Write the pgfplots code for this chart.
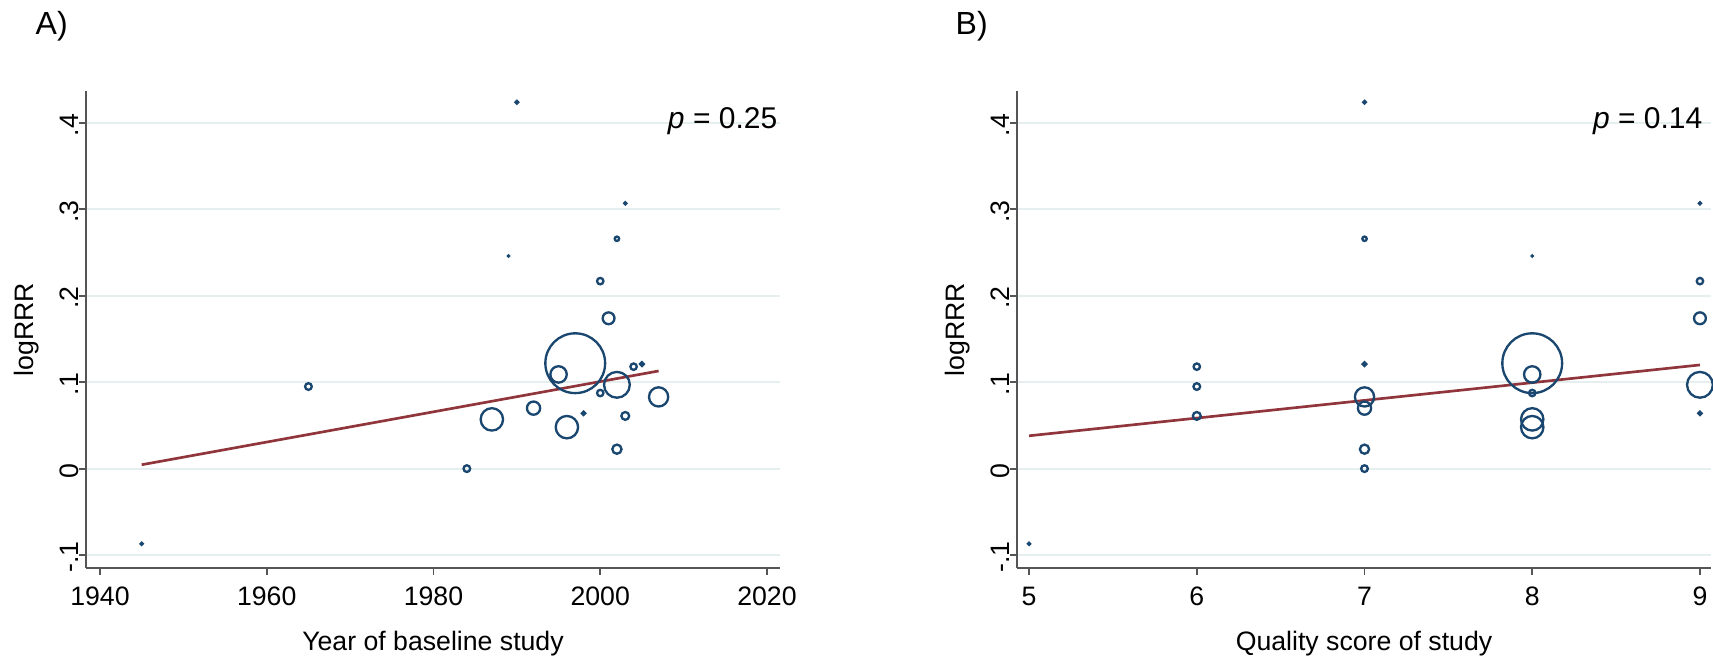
\documentclass[border=0pt]{standalone}
\usepackage{fontspec}
\setmainfont{Liberation Sans}
\usepackage{pgfplots}
\usepackage{pgfplotstable}
\pgfplotsset{compat=1.18}

\definecolor{navy}{RGB}{26,71,111}
\definecolor{maroon}{RGB}{144,53,59}
\definecolor{gridc}{RGB}{230,239,240}
\definecolor{axisgray}{RGB}{85,85,85}

\pgfplotstableread{
year score y ms
1945 5 -0.087 0.30
1965 6 0.095 1.00
1984 7 0.000 1.00
1987 8 0.057 3.36
1989 8 0.246 0.15
1990 7 0.424 0.40
1992 7 0.070 1.98
1995 8 0.109 2.46
1996 8 0.048 3.36
1997 8 0.122 8.97
1998 9 0.064 0.50
2000 9 0.217 0.96
2000 8 0.0875 0.96
2001 9 0.174 1.77
2002 7 0.266 0.66
2002 9 0.097 3.87
2002 7 0.0225 1.38
2003 9 0.307 0.30
2003 6 0.061 1.17
2004 6 0.118 0.96
2005 7 0.121 0.57
2007 7 0.083 2.88
}\studies

\pgfplotsset{
  panel/.style={
    scale only axis,
    width=208.2pt, height=143.1pt,
    anchor=south west,
    axis x line*=bottom, axis y line*=left,
    axis line style={draw=axisgray, line width=0.55pt, -},
    tick align=outside,
    major tick length=2pt,
    tick style={draw=axisgray, line width=0.55pt},
    ymin=-0.1150, ymax=0.4370,
    ytick={-0.1,0,0.1,0.2,0.3,0.4},
    yticklabels={-.1,0,.1,.2,.3,.4},
    ymajorgrids,
    major grid style={draw=gridc, line width=0.6pt},
    tick label style={font=\fontsize{8}{10}\selectfont},
    yticklabel style={rotate=90, anchor=south, inner sep=0pt, xshift=-0.6pt},
    xticklabel style={inner sep=0pt, yshift=-3.4pt},
    every axis y label/.style={at={(axis description cs:-0.085,0.5)}, rotate=90, anchor=center, font=\fontsize{8}{10}\selectfont},
    every axis x label/.style={at={(axis description cs:0.5,-0.174)}, anchor=base, font=\fontsize{8}{10}\selectfont},
    ylabel={logRRR},
    clip=false,
  },
  bubbles/.style={
    scatter, only marks, mark=o, line width=0.7pt,
    scatter/use mapped color={draw=navy, fill=none},
    visualization depends on={\thisrow{ms} \as \perpointmarksize},
    scatter/@pre marker code/.append style={/tikz/mark size=\perpointmarksize pt},
  },
}

\begin{document}
\begin{tikzpicture}
\path[use as bounding box] (0,0) rectangle (513.9pt,198.3pt);

\node[anchor=base west, inner sep=0pt, font=\fontsize{9.6}{11}\selectfont] at (10.5pt,187.8pt) {A)};
\node[anchor=base west, inner sep=0pt, font=\fontsize{9.6}{11}\selectfont] at (286.5pt,187.8pt) {B)};

\begin{axis}[panel, at={(25.8pt,27.9pt)},
  xmin=1938.32, xmax=2021.56,
  xtick={1940,1960,1980,2000,2020},
  xticklabels={1940,1960,1980,2000,2020},
  xlabel={Year of baseline study}]
  \addplot[bubbles] table[x=year, y=y] {\studies};
  \addplot[maroon, line width=0.8pt, no marks] coordinates {(1945,0.0045) (2007,0.1130)};
  \node[anchor=base east, inner sep=0pt, font=\fontsize{9}{11}\selectfont] at (rel axis cs:0.997,0.9224) {\textit{p} = 0.25};
\end{axis}

\begin{axis}[panel, at={(305.1pt,27.9pt)},
  xmin=4.928, xmax=9.066,
  xtick={5,6,7,8,9},
  xticklabels={5,6,7,8,9},
  xlabel={Quality score of study}]
  \addplot[bubbles] table[x=score, y=y] {\studies};
  \addplot[maroon, line width=0.8pt, no marks] coordinates {(5,0.038) (9,0.120)};
  \node[anchor=base east, inner sep=0pt, font=\fontsize{9}{11}\selectfont] at (rel axis cs:0.9885,0.9224) {\textit{p} = 0.14};
\end{axis}
\end{tikzpicture}
\end{document}
